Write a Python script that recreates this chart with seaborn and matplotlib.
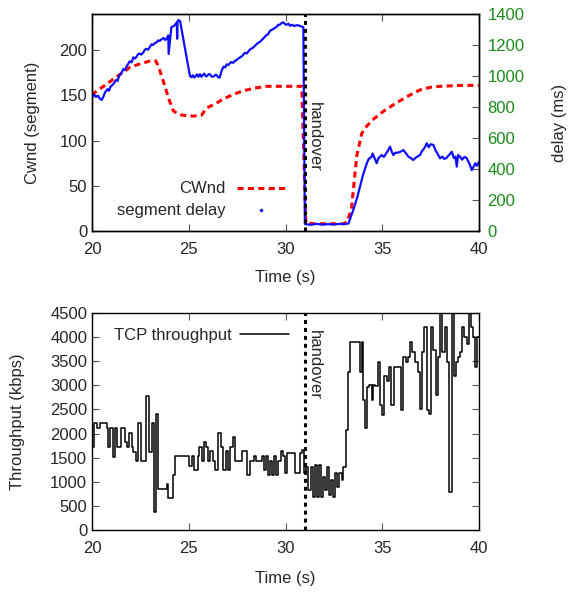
import matplotlib
matplotlib.use('Agg')
import matplotlib.pyplot as plt
import seaborn as sns
from matplotlib.lines import Line2D

sns.set_style('ticks')
plt.rcParams['font.family'] = ['Liberation Sans', 'DejaVu Sans']
plt.rcParams['font.size'] = 12

# ---- top panel: congestion window (segments) ----
cwnd_t = [20.0, 20.24, 20.6, 21.1, 21.5, 21.96, 22.5, 23.0, 23.3, 23.45, 23.6,
          23.8, 23.95, 24.2, 24.45, 24.7, 25.2, 25.66, 25.92, 26.4, 26.78,
          27.3, 27.8, 28.4, 29.03, 30.06, 30.84, 30.95, 31.05, 31.5, 32.5,
          33.0, 33.16, 33.4, 33.68, 33.94, 34.2, 34.5, 35.1, 35.75, 36.4,
          36.95, 37.5, 38.0, 39.0, 40.0]
cwnd_seg = [150, 155, 160, 168, 174, 181, 185, 188, 188, 181, 171,
            158, 147, 133, 129, 128, 127, 128, 136, 141, 146,
            151, 155, 158, 160, 160, 160, 80, 9, 8, 8,
            8, 10, 23, 83, 108, 116, 123, 133, 142, 150,
            156, 159, 160, 161, 161]

# ---- top panel: segment delay (ms) ----
delay_t = [20.0, 20.1, 20.2, 20.3, 20.4, 20.5, 20.6, 20.67, 20.8, 20.88, 20.95,
           21.1, 21.18, 21.25, 21.32, 21.4, 21.5, 21.62, 21.7, 21.8, 21.88,
           21.95, 22.05, 22.13, 22.22, 22.3, 22.38, 22.45, 22.55, 22.65, 22.72,
           22.8, 22.9, 23.0, 23.08, 23.15, 23.25, 23.34, 23.42, 23.5, 23.6,
           23.7, 23.78, 23.85, 23.94, 23.96, 24.1, 24.25, 24.38,
           24.40, 24.42, 24.46, 24.55, 24.7, 24.9, 25.06, 25.14, 25.2, 25.28,
           25.35, 25.42, 25.5, 25.58, 25.65, 25.72, 25.8, 25.88, 25.95, 26.03,
           26.1, 26.2, 26.3, 26.38, 26.45, 26.52, 26.6, 26.7, 26.8, 26.88,
           26.96, 27.05, 27.12, 27.2, 27.3, 27.38, 27.45, 27.55, 27.65, 27.75,
           27.9, 28.0, 28.1, 28.2, 28.3, 28.4, 28.51, 28.6, 28.7, 28.8,
           28.9, 29.0, 29.1, 29.2, 29.3, 29.45, 29.55, 29.62, 29.7, 29.8,
           29.89, 29.97, 30.05, 30.15, 30.23, 30.35, 30.45, 30.58, 30.7, 30.8,
           30.92, 31.0, 31.3, 31.6, 31.9, 32.2, 32.5, 32.8, 33.0, 33.25,
           33.5, 33.7, 33.85, 34.0, 34.2, 34.3, 34.45, 34.5, 34.6, 34.71,
           34.8, 34.97, 35.08, 35.2, 35.3, 35.4, 35.48, 35.57, 35.68, 35.8,
           35.95, 36.09, 36.2, 36.35, 36.48, 36.6, 36.75, 36.95, 37.05, 37.15,
           37.22, 37.3, 37.4, 37.5, 37.64, 37.75, 37.85, 37.98, 38.1, 38.2,
           38.3, 38.45, 38.59, 38.7, 38.78, 38.85, 38.92, 39.02, 39.12, 39.25,
           39.36, 39.48, 39.55, 39.62, 39.7, 39.81, 39.9, 40.0]
delay_ms = [860, 880, 865, 872, 855, 845, 870, 894, 915, 905, 930,
            948, 962, 975, 968, 1000, 1015, 1045, 1038, 1065, 1080,
            1095, 1088, 1120, 1112, 1125, 1140, 1145, 1138, 1152, 1168,
            1175, 1170, 1190, 1205, 1200, 1212, 1217, 1230, 1225, 1238,
            1245, 1232, 1240, 1262, 1142, 1314, 1325, 1345,
            1240, 1350, 1361, 1355, 1250, 1110, 1000, 992, 1005, 990,
            998, 1010, 995, 1012, 995, 1005, 1015, 998, 1000, 1012,
            1010, 995, 998, 1008, 1005, 992, 990, 1035, 1060, 1055,
            1075, 1070, 1082, 1090, 1085, 1098, 1100, 1112, 1120, 1128,
            1150, 1145, 1162, 1175, 1180, 1192, 1206, 1215, 1222, 1235,
            1248, 1262, 1270, 1292, 1298, 1310, 1318, 1330, 1330, 1342,
            1346, 1335, 1330, 1338, 1324, 1330, 1322, 1328, 1325, 1320,
            1315, 45, 40, 46, 41, 44, 42, 46, 44, 48,
            135, 215, 286, 360, 437, 465, 479, 500, 470, 437,
            470, 490, 478, 500, 520, 544, 515, 490, 505, 505,
            512, 522, 505, 480, 470, 458, 475, 490, 515, 530,
            545, 566, 540, 560, 555, 520, 500, 469, 480, 465,
            470, 490, 511, 470, 480, 415, 490, 479, 460, 478,
            470, 440, 420, 393, 410, 437, 420, 448]

# ---- bottom panel: TCP throughput (kbps), step starts ----
tp_t = [20.00, 20.10, 20.24, 20.41, 20.59, 20.76, 20.84, 20.93, 21.07, 21.19,
        21.31, 21.48, 21.71, 21.79, 21.93, 22.05, 22.14, 22.27, 22.39, 22.51,
        22.79, 22.96, 23.08, 23.20, 23.31, 23.43, 23.86, 23.95, 24.17, 24.29,
        25.01, 25.15, 25.29, 25.46, 25.53, 25.67, 25.77, 25.87, 26.01, 26.12,
        26.25, 26.36, 26.49, 26.67, 26.79, 26.91, 27.01, 27.15, 27.29, 27.39,
        27.77, 28.01, 28.18, 28.35, 28.46, 28.77, 28.91, 29.01, 29.11, 29.22,
        29.32, 29.42, 29.53, 29.63, 29.77, 29.87, 29.97, 30.09, 30.49, 30.75,
        30.84, 30.96, 31.06, 31.18, 31.30, 31.40, 31.51, 31.61, 31.71, 31.82,
        31.92, 32.02, 32.13, 32.23, 32.33, 32.44, 32.56, 32.68, 32.78, 32.90,
        32.99, 33.11, 33.25, 33.33, 33.85, 33.94, 34.02, 34.11, 34.23, 34.33,
        34.45, 34.54, 34.63, 34.76, 34.88, 34.97, 35.11, 35.23, 35.35, 35.45,
        35.62, 35.97, 36.09, 36.21, 36.35, 36.43, 36.55, 36.69, 36.83, 36.93,
        37.04, 37.17, 37.30, 37.42, 37.52, 37.64, 37.76, 37.90, 38.00, 38.10,
        38.24, 38.35, 38.45, 38.59, 38.69, 38.83, 38.93, 39.04, 39.14, 39.24,
        39.36, 39.48, 39.59, 39.69, 39.79, 39.90, 40.00]
tp_kbps = [1730, 2215, 2110, 2215, 2215, 2110, 1730, 2110, 1520, 2110,
           1730, 2110, 1830, 1730, 2020, 1730, 1625, 1437, 2215, 1437,
           2785, 1625, 2215, 375, 2410, 861, 951, 674, 1139, 1535,
           1326, 1535, 1243, 1535, 1730, 1437, 1833, 1730, 1437, 1639,
           1437, 1243, 2020, 1730, 1243, 1639, 1243, 1730, 1923, 1437,
           1639, 1139, 1437, 1535, 1437, 1535, 1243, 1535, 1139, 1437,
           1139, 1535, 1139, 1437, 1639, 1535, 1175, 1590, 1175, 1590,
           1660, 1175, 1313, 830, 1313, 691, 1348, 691, 1348, 691,
           1106, 830, 1313, 726, 1037, 691, 1175, 899, 1175, 1037,
           1313, 2074, 3283, 3905, 3283, 3905, 2696, 2108, 2972, 3007,
           2696, 3007, 2986, 3490, 2592, 2385, 3193, 3097, 3387, 2592,
           3387, 2488, 3594, 3490, 3594, 3891, 3698, 3490, 3283, 2502,
           3698, 4203, 2488, 2405, 4203, 3732, 2799, 3594, 4600, 3698,
           4203, 3490, 795, 4700, 3193, 3490, 3594, 3698, 4203, 4009,
           3850, 4600, 4203, 4009, 3387, 4009, 4009]

handover_t = 31.0
green = '#1a8c1a'
tick_col = '#555555'

fig = plt.figure(figsize=(5.73, 5.95), dpi=100)
ax1 = fig.add_axes([0.1606, 0.6118, 0.6754, 0.3647])
ax2 = ax1.twinx()
ax3 = fig.add_axes([0.1606, 0.1092, 0.6754, 0.3647])

# top panel
sns.lineplot(x=cwnd_t, y=cwnd_seg, ax=ax1, color='red', lw=2.2,
             linestyle=(0, (2, 1.4)))
sns.lineplot(x=delay_t, y=delay_ms, ax=ax2, color='#1010ff', lw=1.6)
ax2.axvline(handover_t, color='black', lw=2.2, linestyle=(0, (1.3, 1.3)))
ax1.text(31.12, 143, 'handover', rotation=-90, ha='left', va='top')

ax1.set_xlim(20, 40)
ax1.set_ylim(0, 240)
ax2.set_ylim(0, 1400)
ax1.set_xticks([20, 25, 30, 35, 40])
ax1.set_yticks([0, 50, 100, 150, 200])
ax2.set_yticks(range(0, 1401, 200))
ax1.set_xlabel('Time (s)', labelpad=9.5)
ax1.set_ylabel('Cwnd (segment)', labelpad=14)
ax2.set_ylabel('delay (ms)', labelpad=20)
ax1.tick_params(direction='in', length=5, color=tick_col, top=True, right=False)
ax1.tick_params(axis='x', pad=8)
ax2.tick_params(direction='in', length=5, color=tick_col, labelcolor=green,
                pad=6)

handles = [Line2D([], [], color='red', lw=2.2, linestyle=(0, (2, 1.4))),
           Line2D([], [], color='#1010ff', marker='.', ms=3, ls='none')]
ax2.legend(handles, ['CWnd', 'segment delay'], loc='lower right',
           bbox_to_anchor=(0.539, -0.011), frameon=False, markerfirst=False,
           handlelength=2.9, handletextpad=0.7, labelspacing=0.42,
           numpoints=1)

# bottom panel
sns.lineplot(x=tp_t, y=tp_kbps, ax=ax3, color='black', lw=1.1,
             drawstyle='steps-post', label='TCP throughput')
ax3.axvline(handover_t, color='black', lw=2.2, linestyle=(0, (1.3, 1.3)))
ax3.text(31.12, 4150, 'handover', rotation=-90, ha='left', va='top')
ax3.set_xlim(20, 40)
ax3.set_ylim(0, 4500)
ax3.set_xticks([20, 25, 30, 35, 40])
ax3.set_yticks(range(0, 4501, 500))
ax3.set_xlabel('Time (s)', labelpad=11)
ax3.set_ylabel('Throughput (kbps)', labelpad=18)
ax3.tick_params(direction='in', length=5, color=tick_col, top=True, right=True)
ax3.tick_params(axis='x', pad=8)
ax3.legend(loc='upper right', bbox_to_anchor=(0.547, 1.0), frameon=False,
           markerfirst=False, handlelength=2.9, handletextpad=0.5)

for ax in (ax1, ax2, ax3):
    for s in ax.spines.values():
        s.set_linewidth(1.0)
        s.set_color('black')

fig.savefig('out.png', dpi=100)
